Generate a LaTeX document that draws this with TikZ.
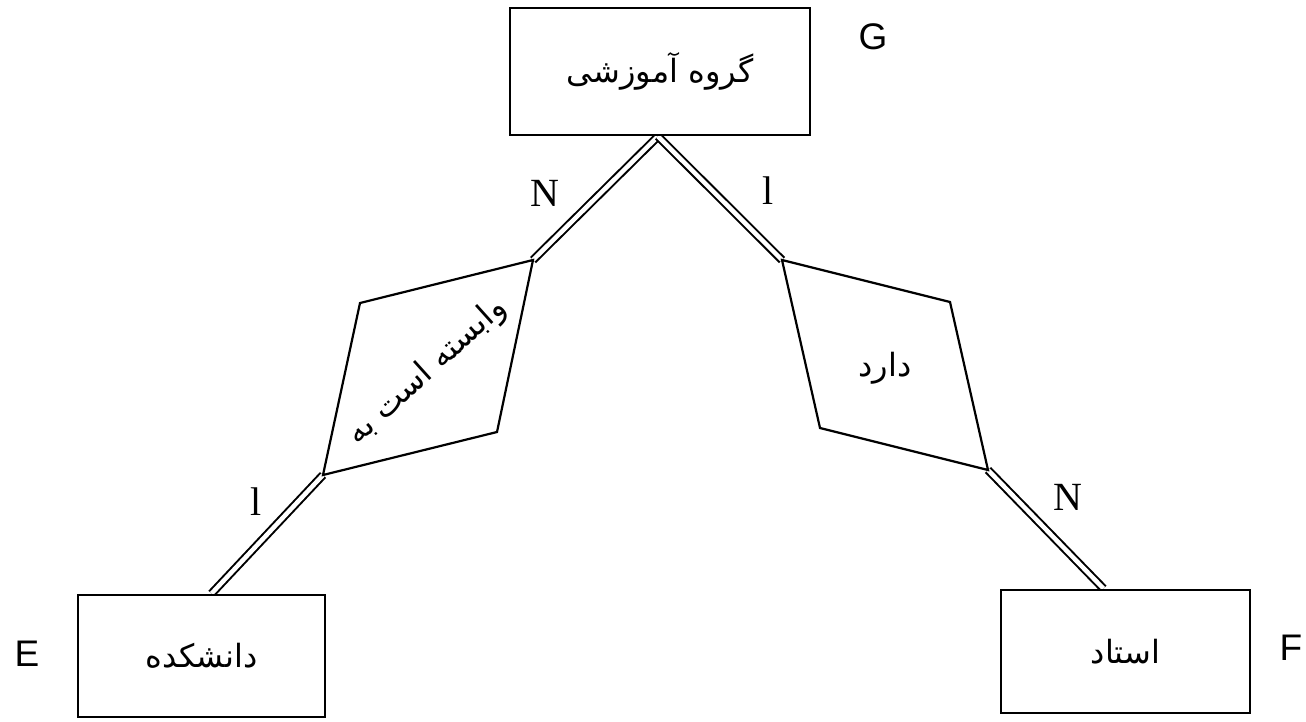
\documentclass[tikz,border=0pt]{standalone}
\usepackage{fontspec}
\setmainfont{Liberation Serif}
\newfontfamily\arabicfont[Script=Arabic]{DejaVu Sans}
\newfontfamily\labelfont{Liberation Sans}
\TeXXeTstate=1
\tikzset{
  entity/.style={draw, fill=white, line width=2.8pt, inner sep=0pt,
    font=\arabicfont\fontsize{32}{36}\selectfont},
  relbox/.style={line width=2.2pt, line join=miter},
  reltext/.style={font=\arabicfont\fontsize{32}{36}\selectfont, inner sep=0pt},
  link/.style={double, double distance=4.5pt, line width=2pt},
  card/.style={font=\fontsize{40}{44}\selectfont, inner sep=0pt},
  tag/.style={font=\labelfont\fontsize{37}{40}\selectfont, inner sep=0pt}
}
\begin{document}
\begin{tikzpicture}[x=1pt,y=-1pt]
\useasboundingbox (0,0) rectangle (1306,721);
% diamond vertices
\coordinate (lt) at (533,260);
\coordinate (ll) at (360,303);
\coordinate (lb) at (323,475);
\coordinate (lr) at (497,432);
\coordinate (rt) at (782,260);
\coordinate (rr) at (950,302);
\coordinate (rb) at (988,470);
\coordinate (rl) at (820,428);
% entity positions (invisible anchors first for links)
\node[entity, draw=none, fill=none, minimum width=300pt, minimum height=127pt] (gA) at (660,71.5) {};
\node[entity, draw=none, fill=none, minimum width=247pt, minimum height=122pt] (eA) at (201.5,656) {};
\node[entity, draw=none, fill=none, minimum width=249pt, minimum height=123pt] (fA) at (1125.5,651.5) {};
% links
\draw[link] ([xshift=-2pt]gA.south) -- (lt);
\draw[link] ([xshift=-2pt]gA.south) -- (rt);
\draw[link] (lb) -- ([xshift=10pt]eA.north);
\draw[link] (rb) -- ([xshift=-22pt]fA.north);
% relationships
\draw[relbox] (lt) -- (ll) -- (lb) -- (lr) -- cycle;
\draw[relbox] (rt) -- (rr) -- (rb) -- (rl) -- cycle;
\node[reltext, rotate=42] (r1) at (427,372) {\beginR وابسته است به\endR};
\node[reltext] (r2) at (885,368) {\beginR دارد\endR};
% entities
\node[entity, minimum width=300pt, minimum height=127pt] (g) at (660,71.5) {\beginR گروه آموزشی\endR};
\node[entity, minimum width=247pt, minimum height=122pt] (e) at (201.5,656) {\beginR دانشکده\endR};
\node[entity, minimum width=249pt, minimum height=123pt] (f) at (1125.5,651.5) {\beginR استاد\endR};
% cardinalities
\node[card] (c1) at (545,193) {N};
\node[card] (c2) at (768,191) {l};
\node[card] (c3) at (256,502) {l};
\node[card] (c4) at (1068,497) {N};
% tags
\node[tag] (tg) at (873,37) {G};
\node[tag] (te) at (27,654) {E};
\node[tag] (tf) at (1291,648) {F};
\end{tikzpicture}
\end{document}
